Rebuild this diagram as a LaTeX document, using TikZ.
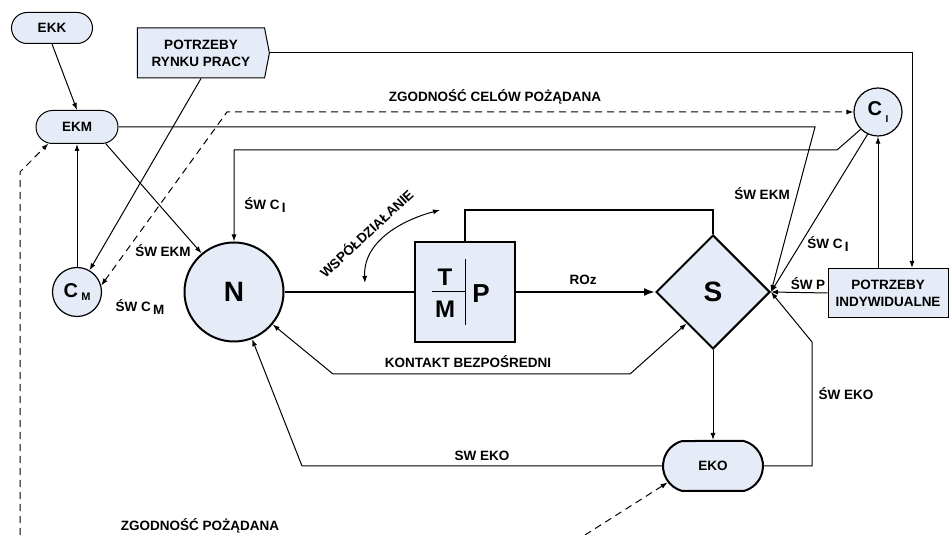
\documentclass[tikz,border=0pt]{standalone}
\usepackage{fontspec}
\setmainfont{Liberation Sans}
\usetikzlibrary{shapes.geometric,shapes.misc,shapes.symbols,arrows.meta,calc}
\definecolor{boxfill}{RGB}{230,236,247}
\begin{document}
\begin{tikzpicture}[x=1pt,y=1pt,>={Latex[length=7pt,width=5pt]},
        every node/.style={font=\fontsize{13.5}{17}\selectfont\bfseries},
        pill/.style={rounded rectangle,draw,fill=boxfill,line width=1pt,inner sep=0pt},
        plainbox/.style={draw,fill=boxfill,line width=1pt,inner sep=0pt,align=center},
        ring/.style={circle,draw,fill=boxfill,inner sep=0pt},
        conn/.style={line width=1pt},
        heavy/.style={line width=2pt},
        dashln/.style={line width=1pt,dash pattern=on 7pt off 5pt}]
        \useasboundingbox (0,0) rectangle (950,535);
        % elements
        \node[pill,minimum width=81pt,minimum height=31pt] (EKK) at (52,507) {EKK};
        \node[pill,minimum width=82pt,minimum height=33pt] (EKM) at (77,408) {EKM};
        \node[pill,line width=2pt,rounded rectangle arc length=150,minimum width=100pt,minimum height=50pt] (EKO) at (713,69) {EKO};
        \node[plainbox,signal,signal to=east,signal pointer angle=158,minimum width=132pt,minimum height=50pt] (PRP) at (201,482) {POTRZEBY\\RYNKU PRACY};
        \node[plainbox,rectangle,minimum width=120pt,minimum height=49pt] (PI) at (888,242) {POTRZEBY\\INDYWIDUALNE};
        \node[ring,line width=1.2pt,minimum size=49pt] (CM) at (77,243) {\fontsize{20}{20}\selectfont C\,\raisebox{-0.35ex}{\fontsize{11}{11}\selectfont M}};
        \node[ring,line width=1.2pt,minimum size=48pt] (CI) at (878,423) {\fontsize{20}{20}\selectfont C\,\raisebox{-0.7ex}{\fontsize{10}{10}\selectfont I}};
        \node[ring,line width=2pt,minimum size=99pt] (N) at (234,243) {\fontsize{28}{28}\selectfont N};
        \node[draw,fill=boxfill,line width=2pt,minimum size=100pt] (TMP) at (465,243) {};
        \node[diamond,draw,fill=boxfill,line width=2pt,minimum width=114pt,minimum height=114pt,inner sep=0pt] (S) at (713,243) {\fontsize{28}{28}\selectfont S};
        % T/M | P
        \node[font=\fontsize{24}{24}\selectfont\bfseries] (T) at ($(TMP.center)+(-20,15)$) {T};
        \node[font=\fontsize{24}{24}\selectfont\bfseries] (M) at ($(TMP.center)+(-20,-17)$) {M};
        \node[font=\fontsize{26}{26}\selectfont\bfseries] (P) at ($(TMP.center)+(16,-2)$) {P};
        \draw[conn] ($(TMP.center)+(-33,0)$) -- (TMP.center);
        \draw[conn] ($(TMP.center)+(0,33)$) -- ($(TMP.center)+(0,-33)$);
        % corner points
        \coordinate (zc) at (227,423);
        \coordinate (pt) at (912,482);
        \coordinate (ekmc) at (815,408);
        \coordinate (cic) at (837,385);
        \coordinate (nc) at (234,385);
        \coordinate (ekoc) at (812,69);
        \coordinate (ekod) at (812,193);
        \coordinate (swc) at (302,69);
        \coordinate (ka) at (333,161);
        \coordinate (kb) at (630,161);
        \coordinate (tp) at (465,325);
        \coordinate (wa) at (365,252);
        \coordinate (wb) at (440,325);
        \coordinate (da) at (20,0);
        \coordinate (db) at (20,363);
        \coordinate (ea) at (585,0);
        % connectors
        \draw[conn,->] (EKK.south) -- (EKM.north);
        \draw[conn,->] (CM) -- (EKM);
        \draw[conn,->] (EKM.-30) -- (N.130);
        \draw[conn,->] (PRP.south) -- (CM.60);
        \draw[dashln,<->] (CM.15) -- (zc) -- (CI.west);
        \draw[conn,->] (PRP.east) -- (pt) -- (pt |- PI.north);
        \draw[conn,->] (PI.north -| CI) -- (CI.south);
        \draw[conn,->] (EKM.east) -- (ekmc) -- (S.east);
        \draw[conn,->] (CI.225) -- (cic) -- (nc) -- (N.north);
        \draw[conn,->] (CI.245) -- (S.east);
        \draw[conn,->] (PI.west) -- (S.east);
        \draw[conn,->] (EKO.east) -- (ekoc) -- (ekod) -- (S.east);
        \draw[conn,->] (S.south) -- (EKO.north);
        \draw[conn,->] (EKO.west) -- (swc) -- (N.-69);
        \draw[conn,<->] (N.-40) -- (ka) -- (kb) -- (S.230);
        \draw[heavy] (N.east) -- (TMP.west);
        \draw[heavy,-{Latex[length=11pt,width=8pt]}] (TMP.east) -- (S.west);
        \draw[heavy] (TMP.north) -- (tp) -| (S.north);
        \draw[conn,<->] (wa) to[out=93,in=195] (wb);
        \draw[dashln,->] (da) -- (db) -- (EKM.210);
        \draw[dashln,->] (ea) -- (EKO.200);
        % labels
        \node (lzc) at (495,438) {ZGODNOŚĆ CELÓW POŻĄDANA};
        \node (lzp) at (200,9) {ZGODNOŚĆ POŻĄDANA};
        \node (lekm) at (163,284) {ŚW EKM};
        \node (lcm) at (140,228) {ŚW C\,\raisebox{-0.4ex}{M}};
        \node (lci) at (265,330) {ŚW C\,\raisebox{-0.4ex}{I}};
        \node (lekms) at (762,341) {ŚW EKM};
        \node (lcis) at (828,291) {ŚW C\,\raisebox{-0.4ex}{I}};
        \node (lp) at (808,251) {ŚW P};
        \node (lekos) at (846,141) {ŚW EKO};
        \node (leko) at (482,79) {SW EKO};
        \node (lroz) at (583,255) {ROz};
        \node (lkb) at (468,173) {KONTAKT BEZPOŚREDNI};
        \node[rotate=43] (lwsp) at (366,302) {WSPÓŁDZIAŁANIE};
\end{tikzpicture}
\end{document}
